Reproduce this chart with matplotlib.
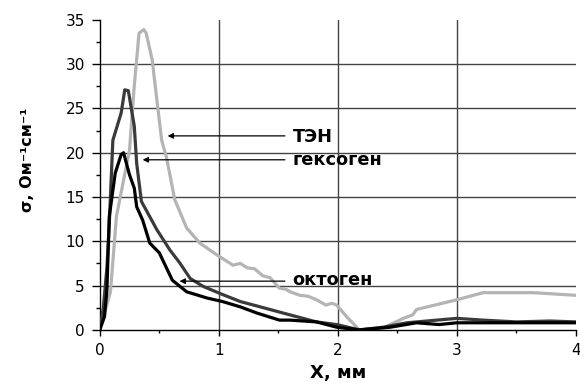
import matplotlib
matplotlib.use("Agg")
import matplotlib.pyplot as plt
from matplotlib.ticker import MultipleLocator

plt.rcParams['font.family'] = ['DejaVu Sans']

# ТЭН
x_ten = [0, 0.09, 0.14, 0.25, 0.29, 0.33, 0.37, 0.39, 0.44, 0.52, 0.56, 0.63, 0.73, 0.84, 0.98,
         1.12, 1.18, 1.24, 1.30, 1.37, 1.43, 1.51, 1.56, 1.60, 1.68, 1.75, 1.82, 1.90, 1.95, 1.99,
         2.08, 2.18, 2.35, 2.44, 2.55, 2.63, 2.66, 3.0, 3.22, 3.64, 4.0]
y_ten = [0, 4.3, 12.8, 20.3, 27.6, 33.5, 33.9, 33.5, 30.5, 21.4, 19.5, 14.7, 11.5, 9.8, 8.5,
         7.3, 7.5, 7.0, 6.9, 6.1, 5.9, 4.7, 4.6, 4.3, 3.9, 3.8, 3.4, 2.8, 3.0, 2.8,
         1.4, 0.0, 0.0, 0.6, 1.3, 1.7, 2.3, 3.4, 4.2, 4.2, 3.9]

# гексоген
x_hex = [0, 0.03, 0.06, 0.08, 0.11, 0.18, 0.21, 0.24, 0.29, 0.31, 0.35, 0.48, 0.59, 0.67, 0.76,
         0.87, 1.03, 1.18, 1.32, 1.54, 1.82, 1.99, 2.18, 2.38, 2.58, 2.83, 3.0, 3.22, 3.5, 3.78, 4.0]
y_hex = [0, 2.5, 7.0, 12.0, 21.4, 24.5, 27.1, 27.0, 23.0, 18.8, 14.5, 11.3, 9.0, 7.6, 5.8,
         4.9, 4.0, 3.2, 2.7, 1.9, 0.9, 0.6, 0.0, 0.3, 0.8, 1.1, 1.3, 1.1, 0.9, 1.0, 0.9]

# октоген
x_oct = [0, 0.04, 0.06, 0.08, 0.13, 0.18, 0.20, 0.25, 0.29, 0.31, 0.36, 0.42, 0.50, 0.61, 0.73,
         0.90, 1.03, 1.18, 1.32, 1.51, 1.60, 1.82, 1.99, 2.18, 2.44, 2.66, 2.85, 3.0, 3.5, 4.0]
y_oct = [0, 1.5, 4.5, 12.8, 17.7, 19.8, 20.0, 17.5, 16.0, 13.9, 12.4, 9.8, 8.7, 5.6, 4.3,
         3.6, 3.2, 2.6, 1.9, 1.1, 1.1, 0.9, 0.3, 0.0, 0.3, 0.8, 0.6, 0.8, 0.8, 0.8]

labels = ['ТЭН', 'гексоген', 'октоген']
# annotation: (text x, text baseline y, arrow head x, arrow tail x, arrow y)
ann = [(1.62, 21.2, 0.57, 1.555, 21.9),
       (1.62, 18.6, 0.36, 1.555, 19.2),
       (1.62, 5.1, 0.67, 1.555, 5.5)]

fig = plt.figure(figsize=(5.8, 3.89), dpi=100)
ax = fig.add_axes([0.172, 0.152, 0.821, 0.797])

for xv in [1, 2, 3]:
    ax.axvline(xv, color='#444444', lw=1.0, zorder=1)
for yv in [5, 10, 15, 20, 25, 30]:
    ax.axhline(yv, color='#444444', lw=1.0, zorder=1)

ax.plot(x_ten, y_ten, color='#b4b4b4', lw=2.3, zorder=3)
ax.plot(x_hex, y_hex, color='#3a3a3a', lw=2.3, zorder=4)
ax.plot(x_oct, y_oct, color='#000000', lw=2.3, zorder=5)

for lab, (tx, ty, hx, tlx, ay) in zip(labels, ann):
    ax.annotate('', xy=(hx, ay), xytext=(tlx, ay),
                arrowprops=dict(arrowstyle='-|>', color='black', lw=0.9,
                                mutation_scale=8, shrinkA=0, shrinkB=0), zorder=6)
    ax.text(tx, ty, lab, fontsize=12.8, fontweight='bold', va='baseline', ha='left', zorder=7)

ax.set_xlim(0, 4)
ax.set_ylim(0, 35)
ax.xaxis.set_major_locator(MultipleLocator(1))
ax.xaxis.set_minor_locator(MultipleLocator(0.5))
ax.yaxis.set_major_locator(MultipleLocator(5))
ax.yaxis.set_minor_locator(MultipleLocator(2.5))
ax.tick_params(axis='y', which='major', direction='out', length=5.8, width=1, labelsize=11, pad=5)
ax.tick_params(axis='y', which='minor', direction='out', length=3, width=1)
ax.tick_params(axis='x', which='major', direction='out', length=4.3, width=1, labelsize=11, pad=5)
ax.tick_params(axis='x', which='minor', direction='out', length=2.2, width=1)
for s in ['top', 'right']:
    ax.spines[s].set_visible(False)
for s in ['left', 'bottom']:
    ax.spines[s].set_linewidth(1.0)

fig.text(338 / 580, 1 - 373 / 389, 'X, мм', fontsize=13, fontweight='bold', ha='center', va='center')
fig.text(27 / 580, 1 - 160 / 389, 'σ, Ом⁻¹см⁻¹', fontsize=11.5, fontweight='bold',
         rotation=90, ha='center', va='center')

fig.savefig('out.png', dpi=100)
